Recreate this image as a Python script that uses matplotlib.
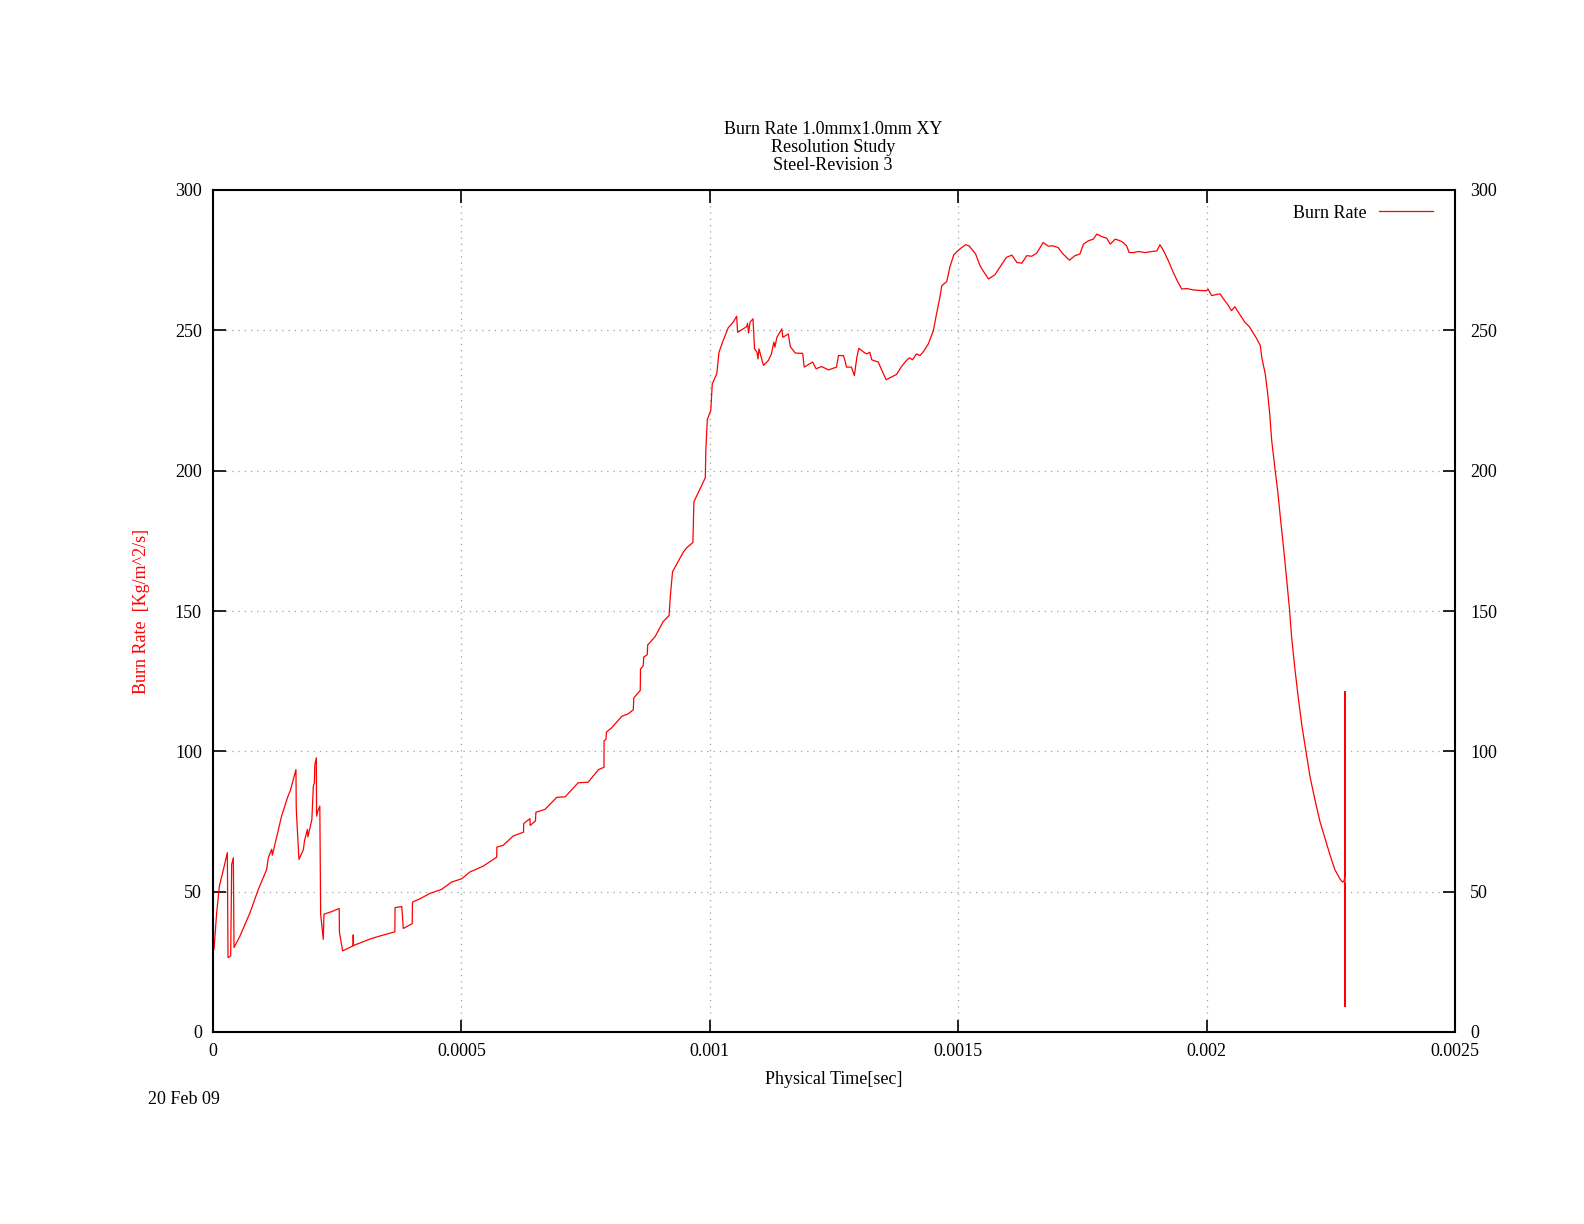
import matplotlib
matplotlib.use("Agg")
import matplotlib.pyplot as plt

plt.rcParams['font.family'] = ['Liberation Serif', 'DejaVu Serif']
plt.rcParams['font.size'] = 13

title_lines = ["Burn Rate 1.0mmx1.0mm XY", "Resolution Study", "Steel-Revision 3"]
x_label = "Physical Time[sec]"
y_label = "Burn Rate  [Kg/m^2/s]"
date_text = "20 Feb 09"
legend_label = "Burn Rate"

x_ticks = [0, 0.0005, 0.001, 0.0015, 0.002, 0.0025]
x_tick_labels = ["0", "0.0005", "0.001", "0.0015", "0.002", "0.0025"]
y_ticks = [0, 50, 100, 150, 200, 250, 300]

# time in milliseconds (converted to seconds when plotted)
time_ms = [
    0.002, 0.0074, 0.0128, 0.0195, 0.0289, 0.0302, 0.0356, 0.0376, 0.0409, 0.0423,
    0.0543, 0.0745, 0.0912, 0.108, 0.1114, 0.118, 0.1195, 0.138, 0.1497, 0.1563,
    0.167, 0.1675, 0.168, 0.173, 0.182, 0.184, 0.190, 0.191, 0.193, 0.199,
    0.202, 0.204, 0.205, 0.208, 0.2085, 0.211, 0.215, 0.2167, 0.222, 0.2234,
    0.239, 0.254, 0.2545, 0.261, 0.282, 0.2822, 0.2826, 0.3026, 0.319, 0.336,
    0.366, 0.3665, 0.380, 0.383, 0.401, 0.4015, 0.417, 0.437, 0.460, 0.480,
    0.5006, 0.517, 0.544, 0.571, 0.5715, 0.584, 0.604, 0.625, 0.6255, 0.638,
    0.6385, 0.649, 0.650, 0.668, 0.692, 0.709, 0.735, 0.755, 0.776, 0.787,
    0.7872, 0.791, 0.792, 0.802, 0.823, 0.836, 0.846, 0.847, 0.860, 0.8605,
    0.866, 0.867, 0.874, 0.875, 0.890, 0.906, 0.918, 0.9205, 0.925, 0.947,
    0.954, 0.966, 0.968, 0.991, 0.992, 0.995, 1.002, 1.005, 1.014, 1.0185,
    1.027, 1.037, 1.047, 1.054, 1.056, 1.074, 1.076, 1.078, 1.081, 1.087,
    1.090, 1.095, 1.097, 1.099, 1.108, 1.118, 1.124, 1.129, 1.131, 1.135,
    1.145, 1.147, 1.158, 1.162, 1.172, 1.187, 1.190, 1.207, 1.214, 1.225,
    1.239, 1.255, 1.259, 1.269, 1.272, 1.275, 1.285, 1.291, 1.296, 1.300,
    1.310, 1.316, 1.322, 1.326, 1.339, 1.345, 1.355, 1.376, 1.385, 1.396,
    1.402, 1.408, 1.416, 1.423, 1.430, 1.440, 1.450, 1.456, 1.463, 1.467,
    1.477, 1.483, 1.491, 1.500, 1.507, 1.515, 1.522, 1.535, 1.544, 1.549,
    1.561, 1.574, 1.585, 1.597, 1.608, 1.618, 1.628, 1.638, 1.648, 1.658,
    1.671, 1.681, 1.691, 1.701, 1.711, 1.724, 1.735, 1.745, 1.752, 1.762,
    1.772, 1.779, 1.789, 1.799, 1.806, 1.816, 1.826, 1.832, 1.839, 1.844,
    1.853, 1.863, 1.876, 1.890, 1.900, 1.906, 1.913, 1.923, 1.933, 1.940,
    1.950, 1.960, 1.973, 1.987, 2.000, 2.003, 2.010, 2.027, 2.034, 2.044,
    2.050, 2.057, 2.064, 2.077, 2.086, 2.101, 2.108, 2.111, 2.118, 2.123,
    2.127, 2.131, 2.138, 2.143, 2.149, 2.154, 2.161, 2.167, 2.171, 2.178,
    2.185, 2.192, 2.200, 2.208, 2.218, 2.228, 2.238, 2.248, 2.258, 2.269,
    2.274, 2.277, 2.2786, 2.2786, 2.2786, 2.2786,
]

burn_rate = [
    29.5, 42.5, 52.0, 56.8, 63.9, 26.5, 27.1, 59.7, 62.1, 30.1,
    34.2, 42.5, 50.8, 57.9, 62.1, 65.1, 63.0, 76.9, 83.4, 86.4,
    93.5, 80.5, 78.0, 61.5, 65.0, 68.0, 72.2, 69.5, 71.0, 75.7,
    87.6, 88.8, 95.3, 97.7, 76.9, 78.7, 80.5, 42.0, 33.0, 42.0,
    42.9, 44.0, 35.5, 28.9, 30.7, 34.6, 30.8, 32.2, 33.3, 34.2,
    35.7, 44.3, 44.7, 36.9, 38.6, 46.3, 47.5, 49.4, 50.8, 53.4,
    54.6, 57.0, 59.1, 62.3, 65.9, 66.5, 69.8, 71.2, 74.3, 76.0,
    73.6, 75.2, 78.3, 79.3, 83.6, 83.8, 88.8, 89.0, 93.5, 94.3,
    103.8, 104.2, 106.9, 108.3, 112.5, 113.4, 114.8, 119.0, 121.7, 129.3,
    130.5, 133.6, 134.4, 137.9, 140.9, 146.2, 148.4, 155.1, 164.0, 171.1,
    172.6, 174.4, 188.9, 197.5, 207.3, 218.2, 221.5, 231.0, 234.5, 242.2,
    246.4, 250.9, 252.9, 255.0, 249.3, 251.3, 252.5, 249.0, 252.9, 254.1,
    243.4, 242.2, 239.8, 243.4, 237.5, 239.3, 241.6, 245.8, 244.0, 247.5,
    250.5, 247.5, 248.7, 244.2, 241.9, 241.8, 236.9, 238.7, 236.3, 237.1,
    235.9, 236.9, 241.0, 241.0, 239.3, 236.9, 236.9, 233.9, 240.4, 243.6,
    242.2, 241.6, 242.2, 239.5, 238.7, 236.3, 232.4, 234.3, 236.9, 239.3,
    240.2, 239.5, 241.6, 241.0, 242.4, 245.2, 249.9, 255.5, 261.7, 265.9,
    267.4, 272.4, 276.9, 278.5, 279.5, 280.5, 280.1, 277.2, 273.0, 271.5,
    268.3, 269.8, 272.8, 276.0, 276.8, 274.2, 273.9, 276.6, 276.4, 277.5,
    281.3, 280.0, 280.1, 279.5, 277.2, 275.0, 276.6, 277.2, 280.7, 281.9,
    282.5, 284.3, 283.4, 282.8, 280.7, 282.5, 281.9, 281.3, 280.1, 277.7,
    277.7, 278.1, 277.7, 278.1, 278.3, 280.5, 278.5, 274.8, 270.6, 268.0,
    264.7, 264.9, 264.4, 264.2, 264.1, 264.7, 262.4, 263.0, 261.2, 258.8,
    257.0, 258.4, 256.4, 252.9, 251.3, 247.0, 244.6, 240.4, 234.5, 227.4,
    220.3, 210.8, 200.1, 193.0, 182.4, 174.1, 161.6, 150.4, 140.9, 129.0,
    118.4, 108.9, 100.0, 91.1, 82.8, 75.1, 69.2, 63.3, 57.9, 54.4,
    53.4, 54.0, 56.0, 121.3, 9.1, 53.0,
]

time_s = [t / 1000.0 for t in time_ms]

W, H = 1584, 1224
fig = plt.figure(figsize=(W / 100, H / 100), dpi=100)
L, R, T, B = 213, 1455, 190, 1032
ax = fig.add_axes([L / W, 1 - B / H, (R - L) / W, (B - T) / H])

ax.plot(time_s, burn_rate, color='#ff0000', linewidth=0.9, label=legend_label)

ax.set_xlim(0, 0.0025)
ax.set_ylim(0, 300)
ax.set_xticks(x_ticks)
ax.set_xticklabels(x_tick_labels)
ax.set_yticks(y_ticks)
ax.set_yticklabels([str(v) for v in y_ticks])

ax.grid(True, color='#a0a0a0', linestyle=(0, (1, 4)), linewidth=0.9)
for s in ax.spines.values():
    s.set_linewidth(1.5)
    s.set_color('black')

ax.tick_params(axis='both', which='major', direction='in', length=9, width=1.2,
               top=True, right=True, labelsize=13)
ax.tick_params(axis='x', pad=8)
ax.tick_params(axis='y', pad=8)

ax2 = ax.twinx()
ax2.set_ylim(0, 300)
ax2.set_yticks(y_ticks)
ax2.set_yticklabels([str(v) for v in y_ticks])
ax2.tick_params(axis='y', direction='in', length=9, width=1.2, pad=11, labelsize=13)
for s in ax2.spines.values():
    s.set_visible(False)

leg = ax.legend(loc='center right', bbox_to_anchor=((1433 - L) / (R - L), (B - 213) / (B - T)),
                frameon=False, markerfirst=False, handlelength=3.0, handletextpad=0.65,
                borderpad=0, borderaxespad=0, fontsize=13)

fig.text((L + R) / 2 / W, 1 - 1080 / H, x_label, ha='center', va='center', fontsize=13)
fig.text(141.5 / W, 1 - 611 / H, y_label, ha='center', va='center', rotation=90,
         color='#ff0000', fontsize=13)
for i, line in enumerate(title_lines):
    fig.text(833 / W, 1 - (129 + 18 * i) / H, line, ha='center', va='center', fontsize=13)
fig.text(148 / W, 1 - 1100 / H, date_text, ha='left', va='center', fontsize=13)

fig.savefig("out.png", dpi=100)
